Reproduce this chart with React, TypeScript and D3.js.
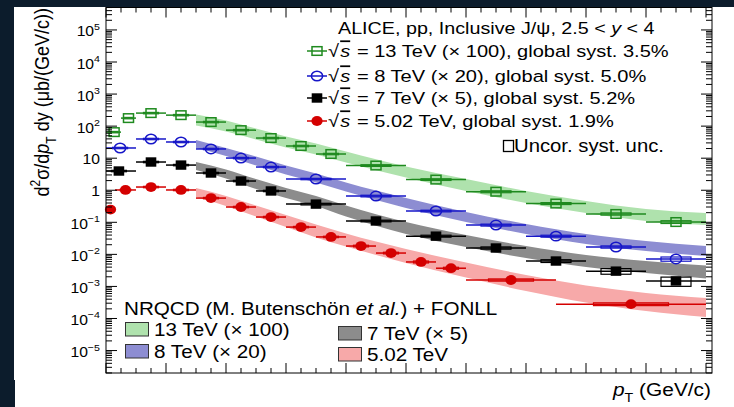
import React, { useEffect, useRef } from 'react';
import * as d3 from 'd3';

// sqrt(s) = 13 TeV, scaled x 100
const pt13 = [0.27, 0.75, 1.5, 2.5, 3.5, 4.5, 5.5, 6.5, 7.5, 9, 11, 13, 15, 17, 19];
const binLo13 = [0, 0.5, 1, 2, 3, 4, 5, 6, 7, 8, 10, 12, 14, 16, 18];
const binHi13 = [0.5, 1, 2, 3, 4, 5, 6, 7, 8, 10, 12, 14, 16, 18, 20];
const val13 = [65, 178, 255, 220, 134, 75, 42.5, 24, 13.5, 5.9, 2.15, 0.9, 0.385, 0.182, 0.102];
const syst13 = [0.05, 0.05, 0.05, 0.05, 0.05, 0.05, 0.05, 0.05, 0.05, 0.06, 0.06, 0.07, 0.07, 0.08, 0.1];

// sqrt(s) = 8 TeV, scaled x 20
const pt8 = [0.47, 1.5, 2.5, 3.5, 4.5, 5.5, 7, 9, 11, 13, 15, 17, 19];
const binLo8 = [0, 1, 2, 3, 4, 5, 6, 8, 10, 12, 14, 16, 18];
const binHi8 = [1, 2, 3, 4, 5, 6, 8, 10, 12, 14, 16, 18, 20];
const val8 = [20.8, 39.7, 32, 19.4, 10.1, 5.3, 2.24, 0.66, 0.225, 0.082, 0.037, 0.017, 0.0072];
const syst8 = [0.05, 0.05, 0.05, 0.05, 0.05, 0.05, 0.05, 0.06, 0.06, 0.07, 0.07, 0.08, 0.15];

// sqrt(s) = 7 TeV, scaled x 5
const pt7 = [0.43, 1.5, 2.5, 3.5, 4.5, 5.5, 7, 9, 11, 13, 15, 17, 19];
const binLo7 = [0, 1, 2, 3, 4, 5, 6, 8, 10, 12, 14, 16, 18];
const binHi7 = [1, 2, 3, 4, 5, 6, 8, 10, 12, 14, 16, 18, 20];
const val7 = [3.98, 7.6, 6.1, 3.45, 1.94, 0.95, 0.37, 0.11, 0.037, 0.0158, 0.0062, 0.003, 0.00148];
const syst7 = [0.05, 0.05, 0.05, 0.05, 0.05, 0.05, 0.06, 0.06, 0.07, 0.08, 0.1, 0.2, 0.32];

// sqrt(s) = 5.02 TeV
const pt5 = [0.15, 0.65, 1.5, 2.5, 3.5, 4.5, 5.5, 6.5, 7.5, 8.5, 9.5, 10.5, 11.5, 13.5, 17.5];
const binLo5 = [0, 0.3, 1, 2, 3, 4, 5, 6, 7, 8, 9, 10, 11, 12, 15];
const binHi5 = [0.3, 1, 2, 3, 4, 5, 6, 7, 8, 9, 10, 11, 12, 15, 20];
const val5 = [0.25, 1.02, 1.26, 1.02, 0.57, 0.3, 0.146, 0.071, 0.035, 0.0182, 0.011, 0.0058, 0.0037, 0.00159, 0.00028];
const syst5 = [0.05, 0.05, 0.05, 0.05, 0.05, 0.05, 0.05, 0.05, 0.05, 0.06, 0.06, 0.07, 0.07, 0.08, 0.1];

// NRQCD + FONLL bands
const bandPt = [3, 4, 5, 6, 7, 8, 10, 12, 14, 16, 18, 20];
const band13Hi = [230.6, 150, 84.4, 47.5, 28.7, 16.2, 5.51, 2.24, 0.948, 0.462, 0.26, 0.195];
const band13Lo = [104.7, 68, 38.3, 21.5, 13.0, 7.34, 2.5, 0.948, 0.4, 0.195, 0.11, 0.0824];
const band8Hi = [36.9, 20.8, 11.3, 5.92, 3.33, 1.75, 0.573, 0.21, 0.0885, 0.0432, 0.0261, 0.0182];
const band8Lo = [20.8, 11.7, 5.92, 3.1, 1.75, 0.914, 0.279, 0.102, 0.0432, 0.0211, 0.0127, 0.0089];
const band7Hi = [7.6, 4.44, 2.24, 1.175, 0.662, 0.334, 0.102, 0.0402, 0.0182, 0.00955, 0.0062, 0.0045];
const band7Lo = [4.28, 2.32, 1.094, 0.573, 0.323, 0.152, 0.0432, 0.017, 0.0077, 0.00404, 0.00262, 0.00177];
const band5Hi = [1.175, 0.662, 0.334, 0.169, 0.0855, 0.0448, 0.0147, 0.00557, 0.00227, 0.00107, 0.000624, 0.000436];
const band5Lo = [0.616, 0.323, 0.152, 0.0714, 0.0336, 0.0176, 0.00538, 0.0019, 0.00072, 0.000315, 0.000171, 0.000111];

const dataLegend = [
  '13 TeV (\u00d7 100), global syst. 3.5%',
  '8 TeV (\u00d7 20), global syst. 5.0%',
  '7 TeV (\u00d7 5), global syst. 5.2%',
  '5.02 TeV, global syst. 1.9%',
];
const bandLegend = ['13 TeV (\u00d7 100)', '8 TeV (\u00d7 20)', '7 TeV (\u00d7 5)', '5.02 TeV'];

const FONT = "'Liberation Sans', Arial, Helvetica, sans-serif";
// the picture is a bit wider than tall (stretched screenshot)
const SX = 1.16;

type Part = { t: string; it?: boolean; sup?: boolean; sub?: boolean; over?: boolean; dx?: number };

// text made of pieces (italic, super/subscript), stretched sideways by sx
function rich(sel: any, x: number, y: number, parts: Part[], size: number, anchor = 'start', sx = SX) {
  const txt = sel
    .append('text')
    .attr('transform', `translate(${x},${y}) scale(${sx},1)`)
    .attr('font-size', size)
    .attr('text-anchor', anchor)
    .attr('fill', '#000');
  let shift = 0;
  parts.forEach((p) => {
    const target = p.sup ? -size * 0.45 : p.sub ? size * 0.35 : 0;
    const ts = txt.append('tspan').attr('dy', target - shift).text(p.t);
    shift = target;
    if (p.dx) ts.attr('dx', p.dx);
    if (p.sup || p.sub) ts.attr('font-size', size * 0.68);
    if (p.it) ts.attr('font-style', 'italic');
    if (p.over) ts.attr('text-decoration', 'overline');
  });
  return txt;
}

function marker(g: any, kind: string, cx: number, cy: number, color: string) {
  if (kind === 'osq') {
    g.append('rect').attr('x', cx - 5).attr('y', cy - 4.3).attr('width', 10).attr('height', 8.6)
      .attr('fill', 'none').attr('stroke', color).attr('stroke-width', 1.5);
  } else if (kind === 'ocir') {
    g.append('ellipse').attr('cx', cx).attr('cy', cy).attr('rx', 5.6).attr('ry', 4.7)
      .attr('fill', 'none').attr('stroke', color).attr('stroke-width', 1.5);
  } else if (kind === 'fsq') {
    g.append('rect').attr('x', cx - 5.3).attr('y', cy - 4.7).attr('width', 10.6).attr('height', 9.4).attr('fill', color);
  } else {
    g.append('ellipse').attr('cx', cx).attr('cy', cy).attr('rx', 5.6).attr('ry', 4.9).attr('fill', color);
  }
}

const App = () => {
  const ref = useRef<SVGSVGElement>(null);

  useEffect(() => {
    const svg = d3.select(ref.current);
    svg.selectAll('*').remove();
    svg.attr('font-family', FONT);

    const x = d3.scaleLinear().domain([0, 20.2]).range([106, 712]);
    const y = d3.scaleLog().domain([Math.pow(10, -5.7), Math.pow(10, 5.7)]).range([373, 7.5]);

    const series = [
      { pt: pt13, lo: binLo13, hi: binHi13, val: val13, syst: syst13, color: '#1f8a1f', kind: 'osq',
        bHi: band13Hi, bLo: band13Lo, band: '#afe2ad' },
      { pt: pt8, lo: binLo8, hi: binHi8, val: val8, syst: syst8, color: '#1616c8', kind: 'ocir',
        bHi: band8Hi, bLo: band8Lo, band: '#8d8dd2' },
      { pt: pt7, lo: binLo7, hi: binHi7, val: val7, syst: syst7, color: '#000000', kind: 'fsq',
        bHi: band7Hi, bLo: band7Lo, band: '#8c8c8c' },
      { pt: pt5, lo: binLo5, hi: binHi5, val: val5, syst: syst5, color: '#d40000', kind: 'fcir',
        bHi: band5Hi, bLo: band5Lo, band: '#f7a9a9' },
    ];

    // background + dark strips of the screenshot
    svg.append('rect').attr('width', 734).attr('height', 407).attr('fill', '#ffffff');
    svg.append('rect').attr('width', 734).attr('height', 7).attr('fill', '#0c1c2c');
    svg.append('rect').attr('width', 14).attr('height', 380).attr('fill', '#0c1c2c');
    svg.append('rect').attr('y', 380).attr('width', 15).attr('height', 27).attr('fill', '#0c1c2c');

    const plot = svg.append('g');

    // theory bands
    series.forEach((s) => {
      const area = d3
        .area<number>()
        .x((d, i) => x(bandPt[i]))
        .y0((d, i) => y(s.bLo[i]))
        .y1((d, i) => y(s.bHi[i]))
        .curve(d3.curveMonotoneX);
      plot.append('path').attr('d', area(bandPt)).attr('fill', s.band);
    });

    // data points
    series.forEach((s) => {
      const g = plot.append('g');
      s.pt.forEach((p, i) => {
        const yy = y(s.val[i]);
        g.append('line')
          .attr('x1', x(s.lo[i])).attr('x2', x(s.hi[i]))
          .attr('y1', yy).attr('y2', yy)
          .attr('stroke', s.color).attr('stroke-width', 1.5);
        const hw = (s.hi[i] - s.lo[i]) / 4;
        const top = y(s.val[i] * (1 + s.syst[i]));
        const bot = y(s.val[i] * (1 - s.syst[i]));
        g.append('rect')
          .attr('x', x(p - hw)).attr('width', x(p + hw) - x(p - hw))
          .attr('y', top).attr('height', bot - top)
          .attr('fill', 'none').attr('stroke', s.color).attr('stroke-width', 1.2);
        marker(g, s.kind, x(p), yy, s.color);
      });
    });

    // frame
    svg.append('rect')
      .attr('x', 106).attr('y', 7.5).attr('width', 606).attr('height', 365.5)
      .attr('fill', 'none').attr('stroke', '#000').attr('stroke-width', 1);

    const axes = svg.append('g').attr('stroke', '#000').attr('stroke-width', 1);

    // x ticks, bottom and top
    const xMajor = d3.range(0, 20.01, 2);
    const xMinor = d3.range(0, 20.21, 0.5);
    xMinor.forEach((t) => {
      const isMajor = xMajor.some((m) => Math.abs(m - t) < 1e-6);
      const len = isMajor ? 10 : 5;
      axes.append('line').attr('x1', x(t)).attr('x2', x(t)).attr('y1', 373).attr('y2', 373 - len);
      axes.append('line').attr('x1', x(t)).attr('x2', x(t)).attr('y1', 7.5).attr('y2', 7.5 + len);
    });

    // y ticks, left and right
    y.ticks(100).forEach((t) => {
      const lg = Math.log10(t);
      const isMajor = Math.abs(lg - Math.round(lg)) < 1e-6;
      const len = isMajor ? 11 : 6;
      const yy = y(t);
      axes.append('line').attr('x1', 106).attr('x2', 106 + len).attr('y1', yy).attr('y2', yy);
      axes.append('line').attr('x1', 712).attr('x2', 712 - len).attr('y1', yy).attr('y2', yy);
      if (isMajor) {
        const k = Math.round(lg);
        if (k === 0) rich(svg, 100, yy + 5.5, [{ t: '1' }], 14.5, 'end', 1.08);
        else if (k === 1) rich(svg, 100, yy + 5.5, [{ t: '10' }], 14.5, 'end', 1.08);
        else
          rich(svg, 100, yy + 6.5, [{ t: '10' }, { t: k < 0 ? '\u2212' + -k : String(k), sup: true }], 14.5, 'end', 1.08);
      }
    });

    // axis titles
    const yTitle = svg
      .append('text')
      .attr('transform', 'translate(49,8) rotate(-90) scale(1,1.16)')
      .attr('font-size', 18)
      .attr('text-anchor', 'end');
    const yParts: Part[] = [
      { t: 'd' }, { t: '2', sup: true }, { t: '\u03c3/d' }, { t: 'p', it: true }, { t: 'T', sub: true },
      { t: ' dy (\u03bcb/(GeV/c))' },
    ];
    let sh = 0;
    yParts.forEach((p) => {
      const target = p.sup ? -8 : p.sub ? 6 : 0;
      const ts = yTitle.append('tspan').attr('dy', target - sh).text(p.t);
      sh = target;
      if (p.sup || p.sub) ts.attr('font-size', 12);
      if (p.it) ts.attr('font-style', 'italic');
    });

    rich(svg, 711, 396, [{ t: 'p', it: true }, { t: 'T', sub: true }, { t: ' (GeV/c)' }], 18, 'end');

    // data legend
    rich(svg, 338, 33.5, [
      { t: 'ALICE, pp, Inclusive J/\u03c8, 2.5 < ' }, { t: 'y', it: true }, { t: ' < 4' },
    ], 17);
    const rowBase = [57, 82, 104, 127];
    series.forEach((s, i) => {
      const by = rowBase[i];
      const cy = by - 6;
      svg.append('line').attr('x1', 307).attr('x2', 327).attr('y1', cy).attr('y2', cy)
        .attr('stroke', s.color).attr('stroke-width', 1.5);
      marker(svg, s.kind, 317, cy, s.color);
      rich(svg, 328, by, [
        { t: '\u221a' }, { t: 's', it: true, over: true, dx: 1 }, { t: ' = ' + dataLegend[i], dx: 1 },
      ], 17.3);
    });
    svg.append('rect').attr('x', 503.5).attr('y', 140.5).attr('width', 10).attr('height', 11)
      .attr('fill', 'none').attr('stroke', '#000').attr('stroke-width', 1.3);
    rich(svg, 514, 151.5, [{ t: 'Uncor. syst. unc.' }], 17.5);

    // theory legend
    rich(svg, 124, 314.5, [
      { t: 'NRQCD (M. Butensch\u00f6n ' }, { t: 'et al.', it: true }, { t: ') + FONLL' },
    ], 17.8);
    const swX = [125, 125, 338, 338];
    const swY = [322, 344, 326, 347];
    series.forEach((s, i) => {
      svg.append('rect').attr('x', swX[i] + 0.5).attr('y', swY[i] + 0.5).attr('width', 23).attr('height', 13.5)
        .attr('fill', s.band).attr('stroke', '#333').attr('stroke-width', 1);
      rich(svg, swX[i] + 29, swY[i] + 13.5, [{ t: bandLegend[i] }], 17.8);
    });

    return () => {
      d3.select(ref.current).selectAll('*').remove();
    };
  }, []);

  return (
    <svg
      ref={ref}
      width={734}
      height={407}
      style={{ position: 'absolute', left: 0, top: 0, display: 'block' }}
    />
  );
};

export default App;
